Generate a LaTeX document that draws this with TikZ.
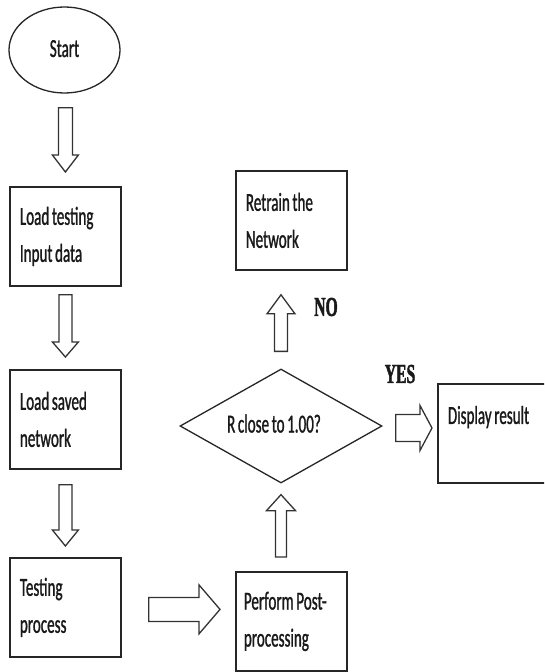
\documentclass[tikz,border=0pt]{standalone}
\usepackage{fontspec}
\usetikzlibrary{shapes.geometric,calc}
% narrow text faces for the boxes and for the branch tags
\newfontfamily\boxfont[FakeStretch=0.58,FakeBold=1.0]{Carlito}
\newfontfamily\tagfont[FakeStretch=0.57,FakeBold=1.5]{Liberation Serif}

% hollow block arrow: #1 tail, #2 tip, #3 shaft half-width, #4 head half-width, #5 head length
\newcommand\blockarrow[5]{%
  \path ($#2!#5!#1$) coordinate (bah);
  \draw[arrowline] ($#1!#3!90:#2$) -- ($(bah)!#3!90:#2$) -- ($(bah)!#4!90:#2$) -- #2
    -- ($(bah)!#4!-90:#2$) -- ($(bah)!#3!-90:#2$) -- ($#1!#3!-90:#2$) -- cycle;}

\tikzset{
  txt/.style={font=\boxfont\fontsize{26}{37}\selectfont, text=black!90,
    execute at begin node={\spaceskip=2.6pt plus 1pt minus 0.5pt\relax}},
  stepbox/.style={txt, draw=black!85, line width=1.8pt, rectangle, anchor=north west,
    minimum width=111pt, minimum height=99pt, text width=91pt, inner xsep=10pt, align=left},
  terminal/.style={txt, ellipse, draw=black!85, line width=1.3pt, inner sep=0pt,
    minimum width=111pt, minimum height=86pt},
  decision/.style={txt, diamond, draw=black!85, line width=1.3pt, inner sep=0pt, aspect=1.77,
    minimum width=202pt, minimum height=114pt},
  arrowline/.style={draw=black!80, line width=1.3pt, line join=miter},
  tag/.style={font=\tagfont\bfseries\fontsize{27.5}{30}\selectfont, text=black!90, inner sep=0pt}
}

\begin{document}
\begin{tikzpicture}[x=1pt, y=-1pt]
  \useasboundingbox (0,0) rectangle (544,672);
  \clip (0,0) rectangle (544,672);
  \fill[white] (0,0) rectangle (544,672);

  % left column
  \node[terminal] (start) at (64.5,50) {\raisebox{3pt}{Start}};
  \node[stepbox] (b1) at (9,186) {Load testing\\Input data};
  \node[stepbox] (b2) at (9,369) {Load saved\\network};
  \node[stepbox] (b3) at (9,557) {Testing\\process};

  % right part
  \node[stepbox, inner xsep=7pt, text width=95pt] (post) at (235,571) {Perform Post-\\processing};
  \node[decision] (dia) at (281,426) {\raisebox{5pt}{R close to 1.00?}\hspace*{14pt}};
  \node[stepbox] (retrain) at (235,170) {Retrain the\\Network};
  \node[stepbox, minimum width=140pt, text width=120pt] (disp) at (437,383) {Display result\\\mbox{}};

  % branch tags
  \node[tag] (notag) at (326,307) {NO};
  \node[tag] (yestag) at (400,374) {YES};

  % arrow end points
  \coordinate (t1) at ($(b1.north |- start.south)+(0,14)$);
  \coordinate (h1) at ($(b1.north)+(0,-14)$);
  \coordinate (t2) at ($(b1.south)+(0,8)$);
  \coordinate (h2) at ($(b2.north)+(0,-12)$);
  \coordinate (t3) at ($(b2.south)+(0,15)$);
  \coordinate (h3) at ($(b3.north)+(0,-11)$);
  \coordinate (t4) at ($(b3.east)+(27,2)$);
  \coordinate (h4) at ($(t4 -| post.west)+(-15,0)$);
  \coordinate (t5) at ($(dia.south |- post.north)+(0,-14)$);
  \coordinate (h5) at ($(dia.south)+(0,11)$);
  \coordinate (t6) at ($(dia.north)+(0,-17)$);
  \coordinate (h6) at ($(dia.north |- retrain.south)+(0,24)$);
  \coordinate (t7) at ($(dia.east)+(13,2)$);
  \coordinate (h7) at ($(t7 -| disp.west)+(-5,0)$);

  % connectors
  \blockarrow{(t1)}{(h1)}{7pt}{13pt}{17pt}
  \blockarrow{(t2)}{(h2)}{6.5pt}{13pt}{15pt}
  \blockarrow{(t3)}{(h3)}{6.5pt}{13pt}{16pt}
  \blockarrow{(t4)}{(h4)}{12pt}{24.5pt}{21pt}
  \blockarrow{(t5)}{(h5)}{5.5pt}{14.5pt}{16pt}
  \blockarrow{(t6)}{(h6)}{6.5pt}{14pt}{19pt}
  \blockarrow{(t7)}{(h7)}{13.5pt}{22.5pt}{12pt}
\end{tikzpicture}
\end{document}
